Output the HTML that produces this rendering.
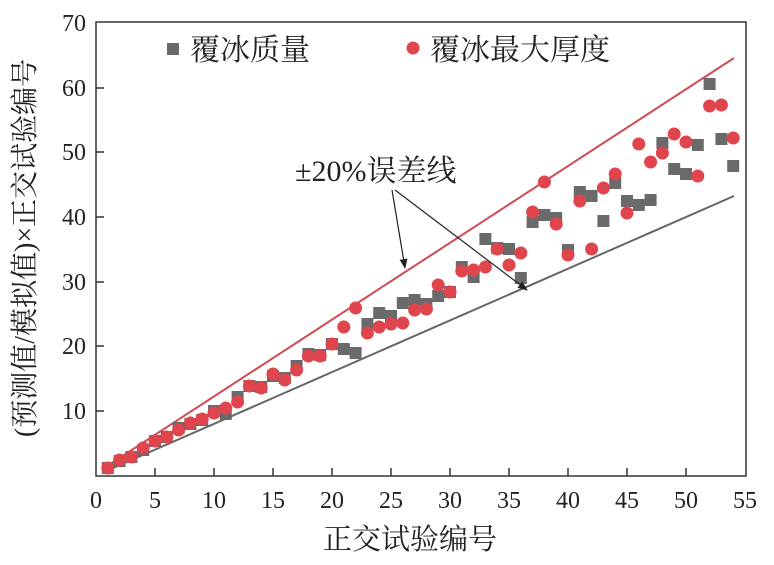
<!DOCTYPE html>
<html><head><meta charset="utf-8"><style>body{margin:0;background:#fff}</style></head><body>
<svg width="774" height="560" xmlns="http://www.w3.org/2000/svg" font-family="Liberation Serif, Noto Serif CJK SC, serif">
<defs><marker id="ah" markerWidth="10" markerHeight="8" refX="9" refY="4" orient="auto" markerUnits="userSpaceOnUse"><path d="M0,0 L10,4 L0,8 z" fill="#222"/></marker></defs>
<rect x="96" y="22" width="650" height="454" fill="none" stroke="#333" stroke-width="1.5"/>
<g stroke="#333" stroke-width="1.5">
<line x1="155" y1="476" x2="155" y2="468"/><line x1="214" y1="476" x2="214" y2="468"/><line x1="273" y1="476" x2="273" y2="468"/><line x1="332" y1="476" x2="332" y2="468"/><line x1="391" y1="476" x2="391" y2="468"/><line x1="450" y1="476" x2="450" y2="468"/><line x1="509" y1="476" x2="509" y2="468"/><line x1="568" y1="476" x2="568" y2="468"/><line x1="627" y1="476" x2="627" y2="468"/><line x1="686" y1="476" x2="686" y2="468"/>
<line x1="96" y1="411" x2="104" y2="411"/><line x1="96" y1="346" x2="104" y2="346"/><line x1="96" y1="282" x2="104" y2="282"/><line x1="96" y1="217" x2="104" y2="217"/><line x1="96" y1="152" x2="104" y2="152"/><line x1="96" y1="88" x2="104" y2="88"/>
</g>
<g font-size="24" fill="#222" text-anchor="middle">
<text x="96" y="508">0</text><text x="155" y="508">5</text><text x="214" y="508">10</text><text x="273" y="508">15</text><text x="332" y="508">20</text><text x="391" y="508">25</text><text x="450" y="508">30</text><text x="509" y="508">35</text><text x="568" y="508">40</text><text x="627" y="508">45</text><text x="686" y="508">50</text><text x="745" y="508">55</text>
</g>
<g font-size="24" fill="#222" text-anchor="end">
<text x="86" y="419">10</text><text x="86" y="354">20</text><text x="86" y="290">30</text><text x="86" y="225">40</text><text x="86" y="160">50</text><text x="86" y="96">60</text><text x="86" y="31">70</text>
</g>
<text x="410" y="549" font-size="29" text-anchor="middle" fill="#222">正交试验编号</text>
<text transform="translate(34,248) rotate(-90)" font-size="28" text-anchor="middle" fill="#222">(预测值/模拟值)×正交试验编号</text>
<line x1="104" y1="468" x2="734" y2="58" stroke="#d04a4f" stroke-width="2"/>
<line x1="104" y1="472" x2="734" y2="196" stroke="#666" stroke-width="2"/>
<g fill="#6a6a6a" id="sq"></g>
<g fill="#e0454d" id="ci"></g>
<rect x="167" y="43" width="12" height="12" fill="#6a6a6a"/>
<text x="190" y="60" font-size="30" fill="#222">覆冰质量</text>
<circle cx="413" cy="48" r="6.5" fill="#e0454d"/>
<text x="430" y="60" font-size="30" fill="#222">覆冰最大厚度</text>
<text x="295" y="181" font-size="30" fill="#222">±20%误差线</text>
<line x1="392" y1="190" x2="405" y2="268" stroke="#222" stroke-width="1.2" marker-end="url(#ah)"/>
<line x1="395" y1="190" x2="527" y2="290" stroke="#222" stroke-width="1.2" marker-end="url(#ah)"/>
<script>
var s=[468,461,457,450,441,437,428,424,420,411,414,397,386,387,376,378,366,354,355,344,349,353,324,313,316,303,300,304,296,292,267,277,239,248,249,278,222,215,218,250,192,196,221,183,201,205,200,143,169,174,145,84,139,166];
var c=[468,460,457,448,441,437,430,423,419,413,408,402,386,388,374,380,370,356,356,344,327,308,333,327,324,323,310,309,285,292,271,270,267,249,265,253,212,182,224,255,201,249,188,174,213,144,162,153,134,142,176,106,105,138];
var ns="http://www.w3.org/2000/svg",gs=document.getElementById('sq'),gc=document.getElementById('ci');
for(var i=0;i<54;i++){var x=96+(i+1)*11.8;
var r=document.createElementNS(ns,'rect');r.setAttribute('x',x-6);r.setAttribute('y',s[i]-6);r.setAttribute('width',12);r.setAttribute('height',12);gs.appendChild(r);
var e=document.createElementNS(ns,'circle');e.setAttribute('cx',x);e.setAttribute('cy',c[i]);e.setAttribute('r',6.5);gc.appendChild(e);}
</script>
</svg>
</body></html>
